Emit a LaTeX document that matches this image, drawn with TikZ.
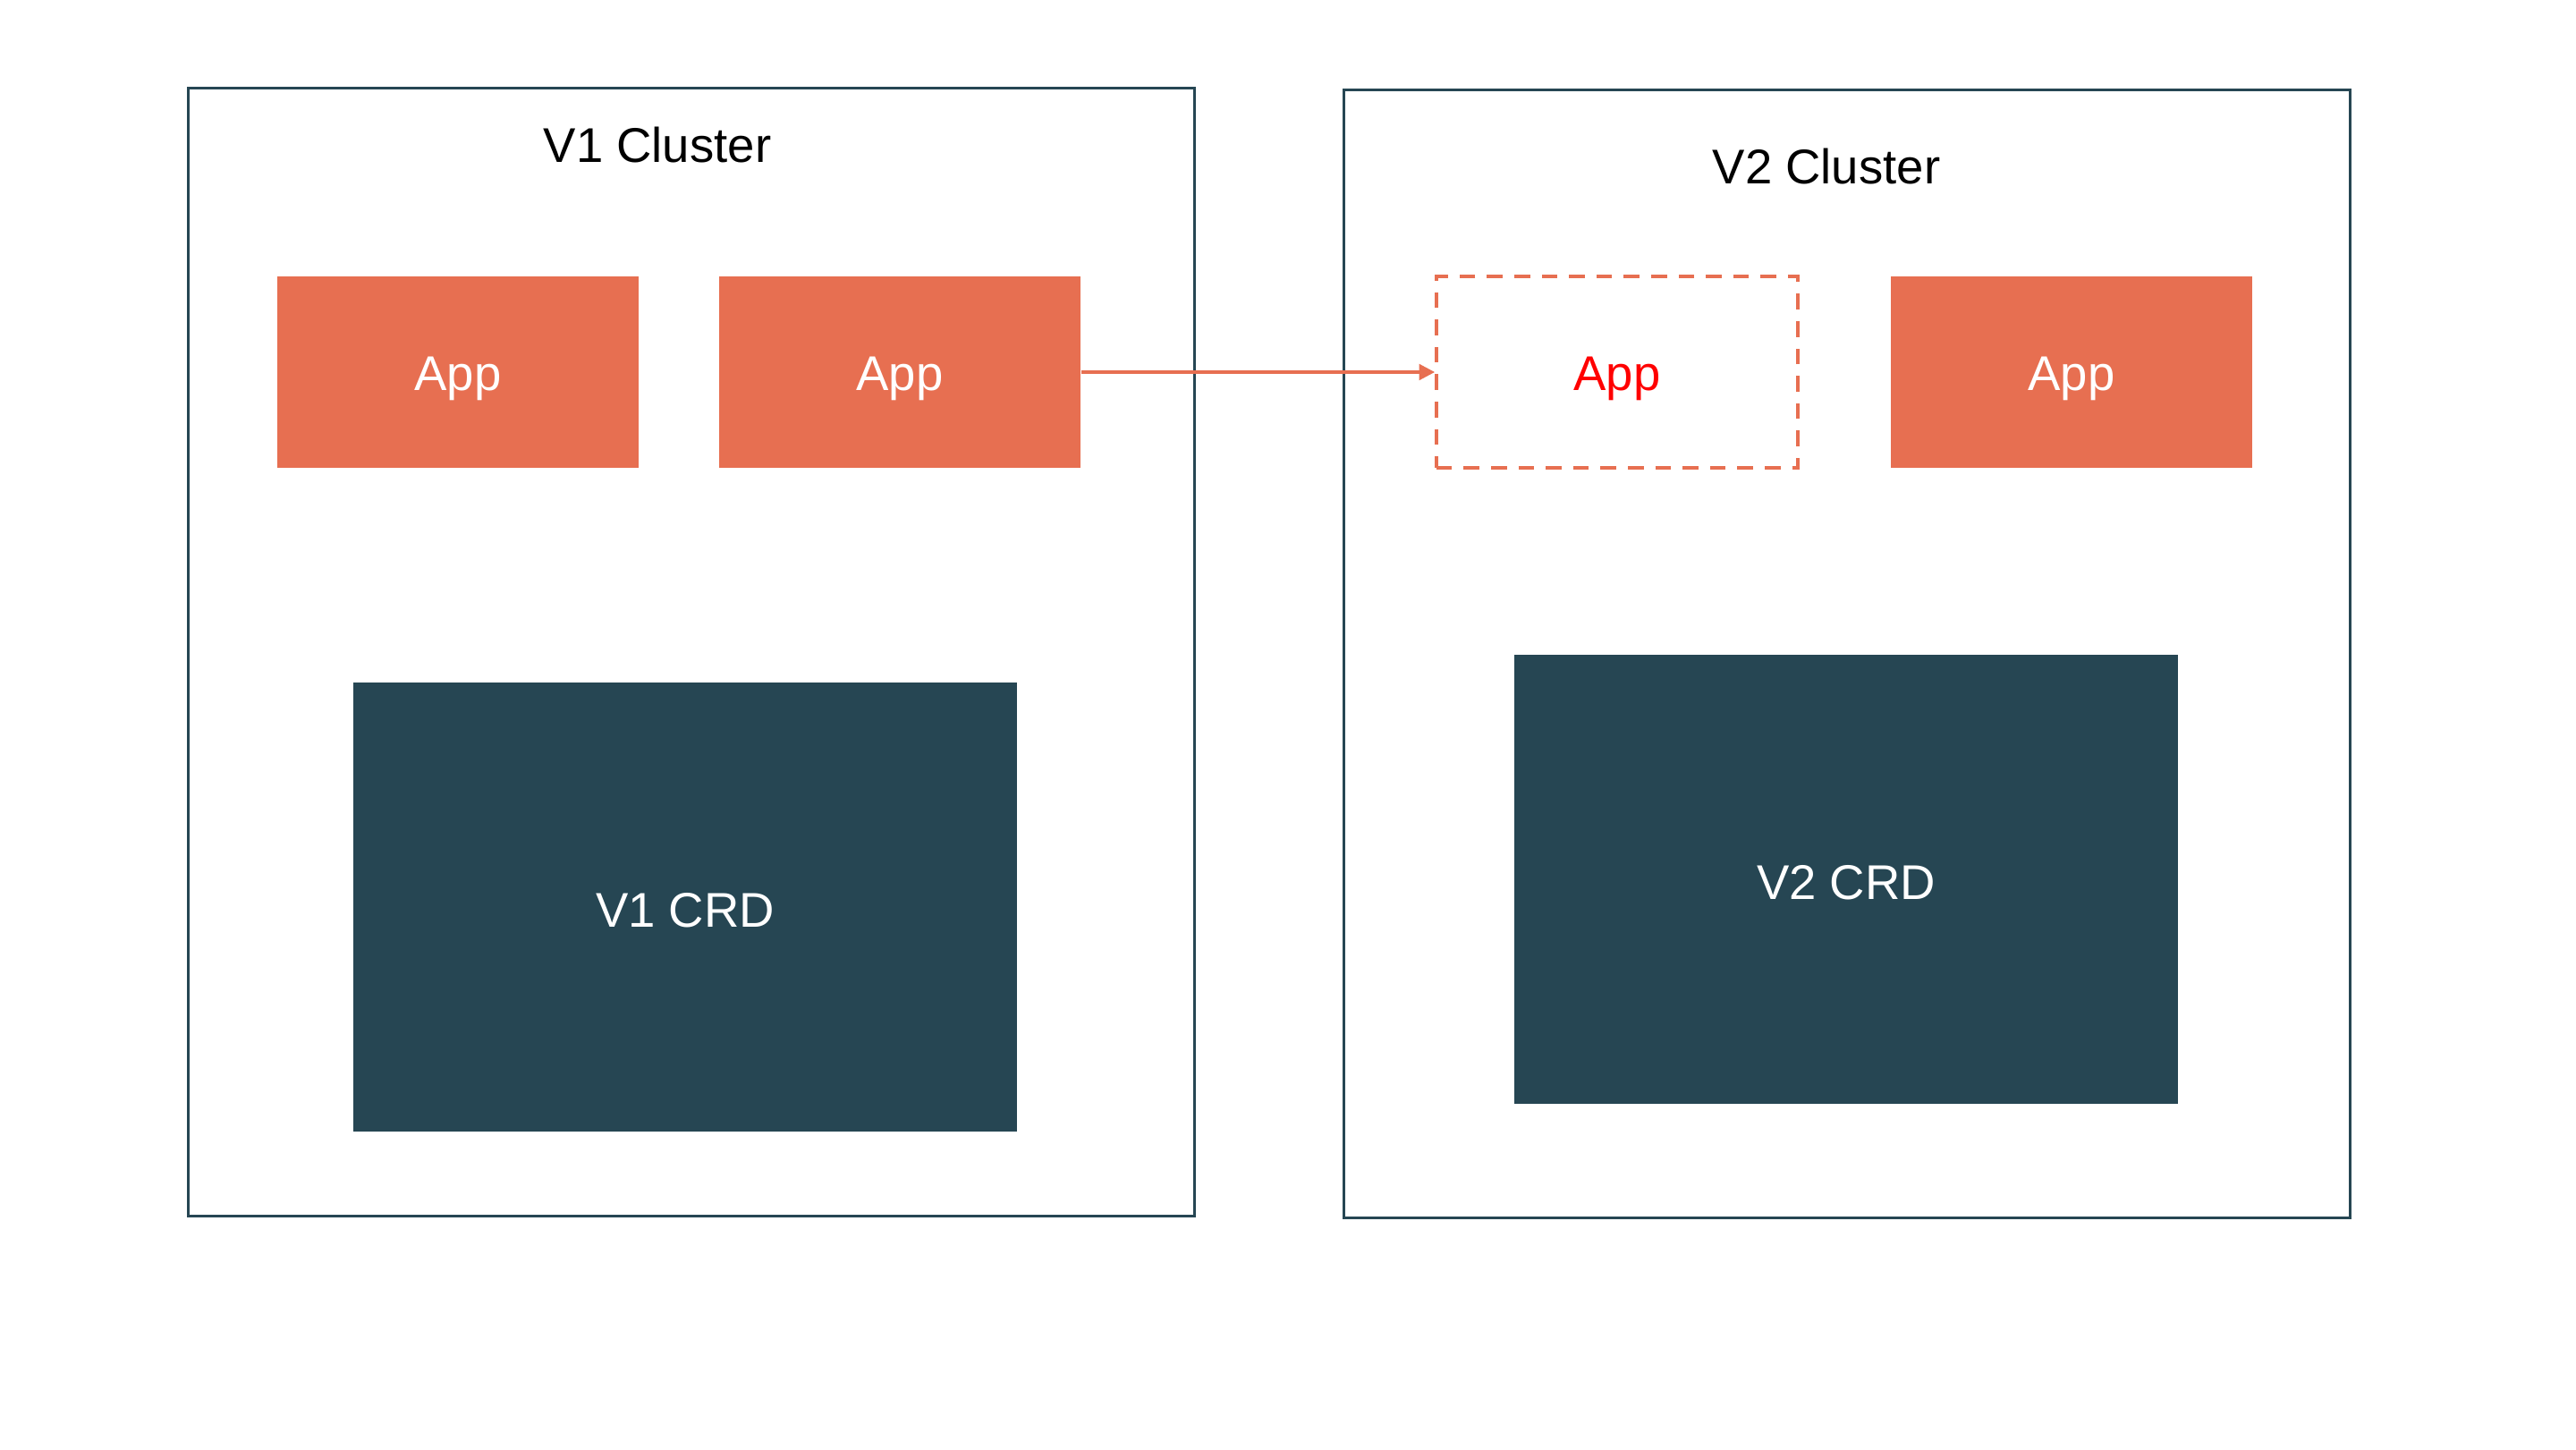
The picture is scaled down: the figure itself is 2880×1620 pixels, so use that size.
\documentclass[tikz,border=0pt]{standalone}
\usepackage{fontspec}
\setmainfont{Liberation Sans}
\usepackage{tikz}
\usetikzlibrary{arrows.meta, positioning, calc}

\definecolor{appred}{HTML}{E76F51}
\definecolor{crddark}{HTML}{264653}

\tikzset{
    cluster/.style={draw=crddark, line width=1pt, rectangle, minimum width=11.24cm, minimum height=12.6cm},
    appbox/.style={fill=appred, rectangle, minimum width=4.04cm, minimum height=2.14cm, text=white, text height=0.41cm, text depth=0pt, font=\fontsize{15.5}{18}\selectfont},
    ghostbox/.style={draw=appred, dash pattern=on 5pt off 3.7pt, line width=1pt, rectangle, minimum width=4.04cm, minimum height=2.14cm, text=red, text height=0.41cm, text depth=0pt, font=\fontsize{15.5}{18}\selectfont},
    crdbox/.style={fill=crddark, rectangle, minimum width=7.42cm, minimum height=5.01cm, text=white, text height=0.44cm, text depth=0pt, font=\fontsize{15.5}{18}\selectfont},
    title/.style={font=\fontsize{15.5}{18}\selectfont}
}

\begin{document}
\begin{tikzpicture}[x=0.01cm, y=-0.01cm]
\useasboundingbox (0,0) rectangle (2880,1620);

% Clusters
\node[cluster] (v1cluster) at (773,729) {};
\node[cluster] (v2cluster) at (2065,731) {};
\node[title] (v1title) at (735,162) {V1 Cluster};
\node[title] (v2title) at (2042,186) {V2 Cluster};

% Apps
\node[appbox] (app1) at (512,416) {App};
\node[appbox] (app2) at (1006,416) {App};
\node[ghostbox] (appmoved) at (1808,416) {App};
\node[appbox] (app4) at (2316,416) {App};

% CRDs
\node[crdbox] (v1crd) at (766,1014) {V1 CRD};
\node[crdbox] (v2crd) at (2064,983) {V2 CRD};

% Migration
\draw[appred, line width=1pt, -{Triangle[length=5pt,width=5pt]}] (app2.east) -- (appmoved.west);
\end{tikzpicture}
\end{document}
